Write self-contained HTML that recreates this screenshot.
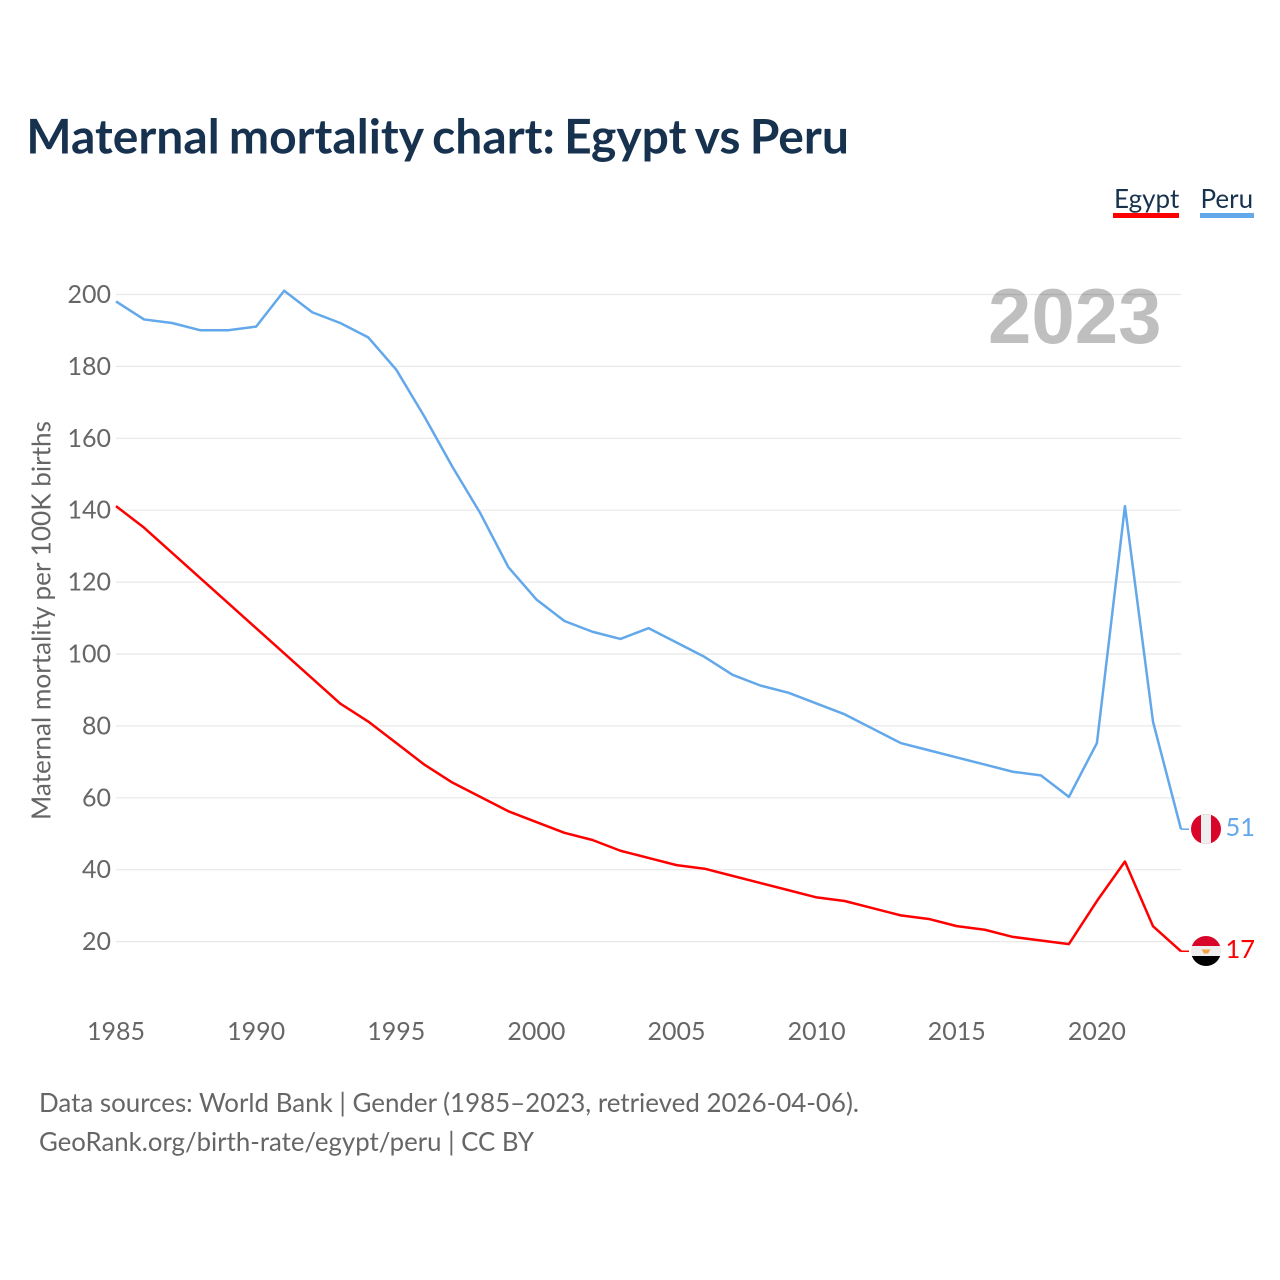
<!DOCTYPE html>
<html lang="en">
<head>
<meta charset="utf-8">
<title>Maternal mortality chart: Egypt vs Peru</title>
<style>
html,body{margin:0;padding:0;background:#fff;width:1280px;height:1280px;overflow:hidden}
svg{display:block}
text{font-family:"Lato","Carlito","Liberation Sans",sans-serif}
</style>
</head>
<body>
<svg id="chart" xmlns="http://www.w3.org/2000/svg" width="1280" height="1280" viewBox="0 0 1280 1280">
  <defs>
    <clipPath id="peru-clip"><circle cx="1206" cy="829" r="15"/></clipPath>
    <clipPath id="egypt-clip"><circle cx="1206" cy="951" r="15"/></clipPath>
  </defs>
  <text x="26.300" y="153.600" font-size="48" font-weight="700" word-spacing="-2.400" fill="#17324f">Maternal mortality chart: Egypt vs Peru</text>

  <g>
    <g>
      <text x="1114" y="208" font-size="26" fill="#17324f">Egypt</text>
      <rect x="1113" y="213" width="66" height="5" fill="#ff0000"/>
    </g>
    <g>
      <text x="1200.500" y="208" font-size="26" fill="#17324f">Peru</text>
      <rect x="1200" y="213" width="54" height="5" fill="#62a8ea"/>
    </g>
  </g>

  <g id="grid"></g>
  <g id="y-ticks"></g>
  <g id="x-ticks"></g>

  <text transform="translate(50.500 620.5) rotate(-90)" text-anchor="middle" font-size="26.200" fill="#666666" textLength="399" lengthAdjust="spacingAndGlyphs">Maternal mortality per 100K births</text>

  <text x="988" y="343" font-size="78" font-weight="700" fill="#000000" fill-opacity="0.25" style="font-family:'Liberation Sans',sans-serif">2023</text>

  <polyline id="line-peru" fill="none" stroke="#62a8ea" stroke-width="2.5" stroke-linejoin="round"/>
  <polyline id="line-egypt" fill="none" stroke="#ff0000" stroke-width="2.5" stroke-linejoin="round"/>
  <line id="tail-peru" stroke="#62a8ea" stroke-width="1.5"/>
  <line id="tail-egypt" stroke="#ff0000" stroke-width="1.5"/>

  <g clip-path="url(#peru-clip)">
    <rect x="1191" y="814" width="30" height="30" fill="#d90429"/>
    <rect x="1201" y="814" width="10" height="30" fill="#eeeeee"/>
  </g>
  <g clip-path="url(#egypt-clip)">
    <rect x="1191" y="936" width="30" height="10" fill="#d90429"/>
    <rect x="1191" y="946" width="30" height="10" fill="#eeeeee"/>
    <rect x="1191" y="956" width="30" height="10" fill="#000000"/>
    <path d="M1201.500 949.500L1210.500 949.500L1208 953.500L1204 953.500Z" fill="#f4a340"/>
  </g>
  <text x="1225.500" y="836" font-size="25.500" fill="#62a8ea">51</text>
  <text x="1225.500" y="958" font-size="25.500" fill="#ff0000">17</text>

  <text x="39" y="1112" font-size="25.900" fill="#666666" textLength="820" lengthAdjust="spacingAndGlyphs">Data sources: World Bank | Gender (1985–2023, retrieved 2026-04-06).</text>
  <text x="39" y="1151" font-size="25.900" fill="#666666" textLength="495" lengthAdjust="spacingAndGlyphs">GeoRank.org/birth-rate/egypt/peru | CC BY</text>
</svg>
<script>
const years = [1985,1986,1987,1988,1989,1990,1991,1992,1993,1994,1995,1996,1997,1998,1999,2000,2001,2002,2003,2004,2005,2006,2007,2008,2009,2010,2011,2012,2013,2014,2015,2016,2017,2018,2019,2020,2021,2022,2023];
const peruValues = [198,193,192,190,190,191,201,195,192,188,179,166,152,139,124,115,109,106,104,107,103,99,94,91,89,86,83,79,75,73,71,69,67,66,60,75,141,81,51];
const egyptValues = [141,135,128,121,114,107,100,93,86,81,75,69,64,60,56,53,50,48,45,43,41,40,38,36,34,32,31,29,27,26,24,23,21,20,19,31,42,24,17];
const yTickValues = [20,40,60,80,100,120,140,160,180,200];
const xTickValues = [1985,1990,1995,2000,2005,2010,2015,2020];

const SVG_NS = 'http://www.w3.org/2000/svg';
function xScale(year) { return 116 + (year - 1985) * (1181 - 116) / 38; }
function yScale(value) { return 294.3 + (200 - value) * 3.59; }
function gridScale(value) { return 294.5 + (200 - value) * 3.595; }
function pointsFor(values) {
  return values.map(function (v, i) { return xScale(years[i]).toFixed(2) + ',' + yScale(v).toFixed(2); }).join(' ');
}

const gridGroup = document.getElementById('grid');
const yGroup = document.getElementById('y-ticks');
const xGroup = document.getElementById('x-ticks');

yTickValues.forEach(function (v) {
  const line = document.createElementNS(SVG_NS, 'line');
  
  
  line.setAttribute('x1', 116);
  line.setAttribute('x2', 1181);
  line.setAttribute('y1', gridScale(v));
  line.setAttribute('y2', gridScale(v));
  line.setAttribute('stroke', '#e8e8e8');
  line.setAttribute('stroke-width', '1.2');
  gridGroup.appendChild(line);

  const label = document.createElementNS(SVG_NS, 'text');
  
  
  label.setAttribute('x', 111);
  label.setAttribute('y', gridScale(v) + 8.5);
  label.setAttribute('text-anchor', 'end');
  label.setAttribute('font-size', '25');
  label.setAttribute('fill', '#666666');
  label.textContent = String(v);
  yGroup.appendChild(label);
});

xTickValues.forEach(function (yr) {
  const label = document.createElementNS(SVG_NS, 'text');
  
  
  label.setAttribute('x', xScale(yr));
  label.setAttribute('y', 1040);
  label.setAttribute('text-anchor', 'middle');
  label.setAttribute('font-size', '25');
  label.setAttribute('fill', '#666666');
  label.textContent = String(yr);
  xGroup.appendChild(label);
});

document.getElementById('line-peru').setAttribute('points', pointsFor(peruValues));
document.getElementById('line-egypt').setAttribute('points', pointsFor(egyptValues));

function setTail(id, values) {
  const el = document.getElementById(id);
  const lastY = yScale(values[values.length - 1]);
  el.setAttribute('x1', xScale(years[years.length - 1]));
  el.setAttribute('x2', 1189);
  el.setAttribute('y1', lastY);
  el.setAttribute('y2', lastY);
}
setTail('tail-peru', peruValues);
setTail('tail-egypt', egyptValues);
</script>
</body>
</html>
